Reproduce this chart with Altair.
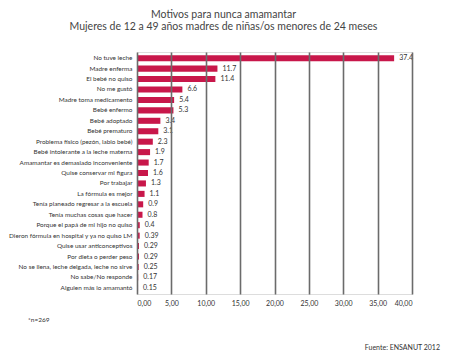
import altair as alt
import pandas as pd

categories = [
    "No tuve leche", "Madre enferma", "El bebé no quiso", "No me gustó",
    "Madre toma medicamento", "Bebé enfermo", "Bebé adoptado", "Bebé prematuro",
    "Problema físico (pezón, labio bebé)", "Bebé intolerante a la leche materna",
    "Amamantar es demasiado inconveniente", "Quise conservar mi figura",
    "Por trabajar", "La fórmula es mejor", "Tenía planeado regresar a la escuela",
    "Tenía muchas cosas que hacer", "Porque el papá de mi hijo no quiso",
    "Dieron fórmula en hospital y ya no quiso LM", "Quise usar anticonceptivos",
    "Por dieta o perder peso", "No se llena, leche delgada, leche no sirve",
    "No sabe/No responde", "Alguien más lo amamantó",
]
values = [37.4, 11.7, 11.4, 6.6, 5.4, 5.3, 3.4, 3.1, 2.3, 1.9, 1.7, 1.6, 1.3,
          1.1, 0.9, 0.8, 0.4, 0.39, 0.29, 0.29, 0.25, 0.17, 0.15]
value_labels = ["37.4", "11.7", "11.4", "6.6", "5.4", "5.3", "3.4", "3.1", "2.3",
                "1.9", "1.7", "1.6", "1.3", "1.1", "0.9", "0.8", "0.4", "0.39",
                "0.29", "0.29", "0.25", "0.17", "0.15"]
x_ticks = [0, 5, 10, 15, 20, 25, 30, 35, 40]
title_lines = ["Motivos para nunca amamantar",
               "Mujeres de 12 a 49 años madres de niñas/os menores de 24 meses"]
note_text = "*n=269"
source_text = "Fuente: ENSANUT 2012"

df = pd.DataFrame({"cat": categories, "val": values, "lab": value_labels})

FONT = "Lato"
RED = "#C8174A"

x = alt.X("val:Q", scale=alt.Scale(domain=[0, 40], nice=False),
          axis=alt.Axis(values=x_ticks, title=None, grid=True, gridColor="#6b6b6b",
                        gridWidth=1.6, domain=False, ticks=False, labelOverlap=False,
                        labelExpr="replace(format(datum.value, '.2f'), '.', ',')",
                        labelFont=FONT, labelFontSize=7, labelColor="#333",
                        labelPadding=5, zindex=1))
y = alt.Y("cat:N", sort=categories,
          scale=alt.Scale(paddingInner=0.42, paddingOuter=0.3),
          axis=alt.Axis(title=None, domain=False, ticks=False, labelFont=FONT,
                        labelFontSize=6.4, labelColor="#333", labelPadding=5,
                        labelLimit=200))

base = alt.Chart(df).encode(x=x, y=y)
bars = base.mark_bar(color=RED)
texts = base.mark_text(align="left", dx=5, font=FONT, fontSize=7,
                       color="#333").encode(text="lab:N")

note = alt.Chart(pd.DataFrame({"t": [note_text]})).mark_text(
    align="left", font=FONT, fontSize=6.5, color="#333").encode(
    x=alt.value(-109), y=alt.value(268), text="t:N")
source = alt.Chart(pd.DataFrame({"t": [source_text]})).mark_text(
    align="right", font=FONT, fontSize=7, color="#333").encode(
    x=alt.value(303), y=alt.value(296), text="t:N")

chart = (bars + texts + note + source).properties(
    width=275, height=242,
    autosize=alt.AutoSizeParams(type="none"),
    padding={"left": 137, "top": 52, "right": 38, "bottom": 67},
    title=alt.TitleParams(text=title_lines, anchor="middle", dx=-51, offset=20,
                          font=FONT, fontSize=10.5, fontWeight="normal",
                          color="#444", lineHeight=12),
).configure_view(stroke=None).configure(background="white")

chart.save("out.html", embed_options={"renderer": "svg", "actions": False})
